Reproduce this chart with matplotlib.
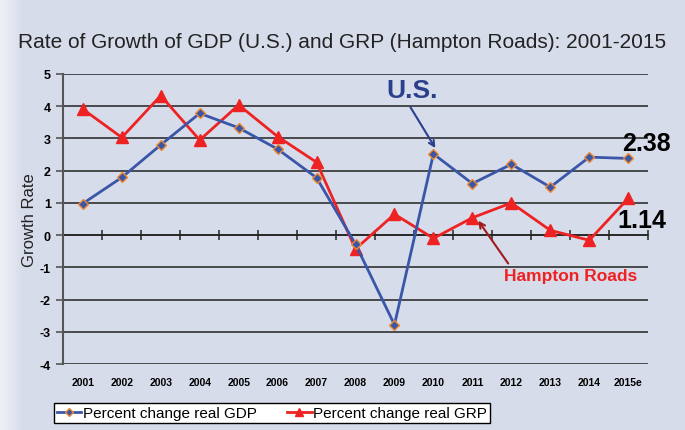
import matplotlib
matplotlib.use("Agg")
import matplotlib.pyplot as plt
import numpy as np
from matplotlib.colors import LinearSegmentedColormap

# data
years = ["2001", "2002", "2003", "2004", "2005", "2006", "2007", "2008",
         "2009", "2010", "2011", "2012", "2013", "2014", "2015e"]
gdp = [0.98, 1.79, 2.8, 3.78, 3.33, 2.67, 1.78, -0.28, -2.78, 2.52,
       1.6, 2.2, 1.49, 2.42, 2.38]
grp = [3.91, 3.03, 4.33, 2.95, 4.04, 3.06, 2.26, -0.43, 0.65, -0.1,
       0.54, 1.0, 0.15, -0.16, 1.14]
yticks = [-4, -3, -2, -1, 0, 1, 2, 3, 4, 5]

plt.rcParams['font.family'] = ["Liberation Sans", "DejaVu Sans"]

bg = "#d6dcea"
blue = "#3a56a8"
red = "#ee2222"

fig = plt.figure(figsize=(6.85, 4.31), dpi=100, facecolor=bg)

# soft whitish fade at the left edge
gax = fig.add_axes([0, 0, 0.035, 1])
grad = np.linspace(0, 1, 50).reshape(1, -1)
cm = LinearSegmentedColormap.from_list("fade", ["#eef1f6", bg])
gax.imshow(grad, aspect="auto", cmap=cm, extent=[0, 1, 0, 1])
gax.axis("off")

ax = fig.add_axes([0.0925, 0.153, 0.853, 0.673])
ax.set_facecolor(bg)
x = np.arange(len(years))

ax.plot(x, gdp, color=blue, lw=2, marker="D", ms=5.5, mfc=blue,
        mec="#f08a30", mew=1, label="Percent change real GDP", zorder=4)
ax.plot(x, grp, color=red, lw=2, marker="^", ms=8, mfc=red, mec=red,
        label="Percent change real GRP", zorder=3)

ax.set_xlim(-0.5, len(years) - 0.5)
ax.set_ylim(-4, 5)
ax.set_yticks(yticks)
ax.set_yticklabels([str(v) for v in yticks], fontweight="bold", fontsize=9)
ax.set_xticks(x)
ax.set_xticklabels(years, fontweight="bold", fontsize=7.5)
ax.tick_params(axis="x", length=0, pad=9)
ax.tick_params(axis="y", direction="out", length=5, width=1.2,
               color="#555555", pad=4)
for v in yticks:
    ax.axhline(v, color="#222222", lw=1.1, zorder=1)
ax.spines["top"].set_visible(False)
ax.spines["right"].set_visible(False)
ax.spines["bottom"].set_visible(False)
ax.spines["left"].set_color("#555555")
ax.spines["left"].set_linewidth(1.5)

# category axis crossing at zero, with tick marks between categories
sec = ax.secondary_xaxis(4 / 9)
sec.set_xticks(x[:-1] + 0.5)
sec.set_xticks([len(years) - 0.5], minor=True)
sec.set_xticklabels([])
sec.tick_params(direction="inout", length=7, width=1.2, color="#333333")
sec.tick_params(which="minor", direction="inout", length=7, width=1.2,
                color="#333333")
sec.spines["bottom"].set_color("#333333")
sec.spines["bottom"].set_linewidth(1.2)

ax.set_ylabel("Growth Rate", fontsize=12, labelpad=2, color="#222222")

fig.text(0.5, 0.902, "Rate of Growth of GDP (U.S.) and GRP (Hampton Roads): 2001-2015",
         ha="center", va="center", fontsize=15, color="#222222")

# annotations
ax.text(8.46, 4.5, "U.S.", ha="center", va="center", fontsize=19,
        fontweight="bold", color="#2b3f8c")
ax.annotate("", xy=(9.05, 2.7), xytext=(8.41, 3.97),
            arrowprops=dict(arrowstyle="->", color="#2b3f8c", lw=1.5,
                            shrinkA=0, shrinkB=0))
ax.text(14.47, 2.85, "2.38", ha="center", va="center", fontsize=18,
        fontweight="bold", color="black", clip_on=False)
ax.text(14.34, 0.47, "1.14", ha="center", va="center", fontsize=18,
        fontweight="bold", color="black", clip_on=False)
ax.text(12.53, -1.25, "Hampton Roads", ha="center", va="center",
        fontsize=12.5, fontweight="bold", color=red, clip_on=False)
ax.annotate("", xy=(10.15, 0.45), xytext=(10.92, -0.88),
            arrowprops=dict(arrowstyle="->", color="#a01c1c", lw=1.5,
                            shrinkA=0, shrinkB=0))

leg = fig.legend(loc="center", bbox_to_anchor=(0.397, 0.039), ncol=2,
                 frameon=True, fancybox=False, edgecolor="black",
                 facecolor="white", framealpha=1,
                 prop={"size": 11}, handlelength=1.6,
                 handletextpad=0.1, columnspacing=2.0, borderpad=0.2,
                 markerscale=0.75, borderaxespad=0)
leg.get_frame().set_linewidth(1)

fig.savefig("out.png", dpi=100, facecolor=bg)
